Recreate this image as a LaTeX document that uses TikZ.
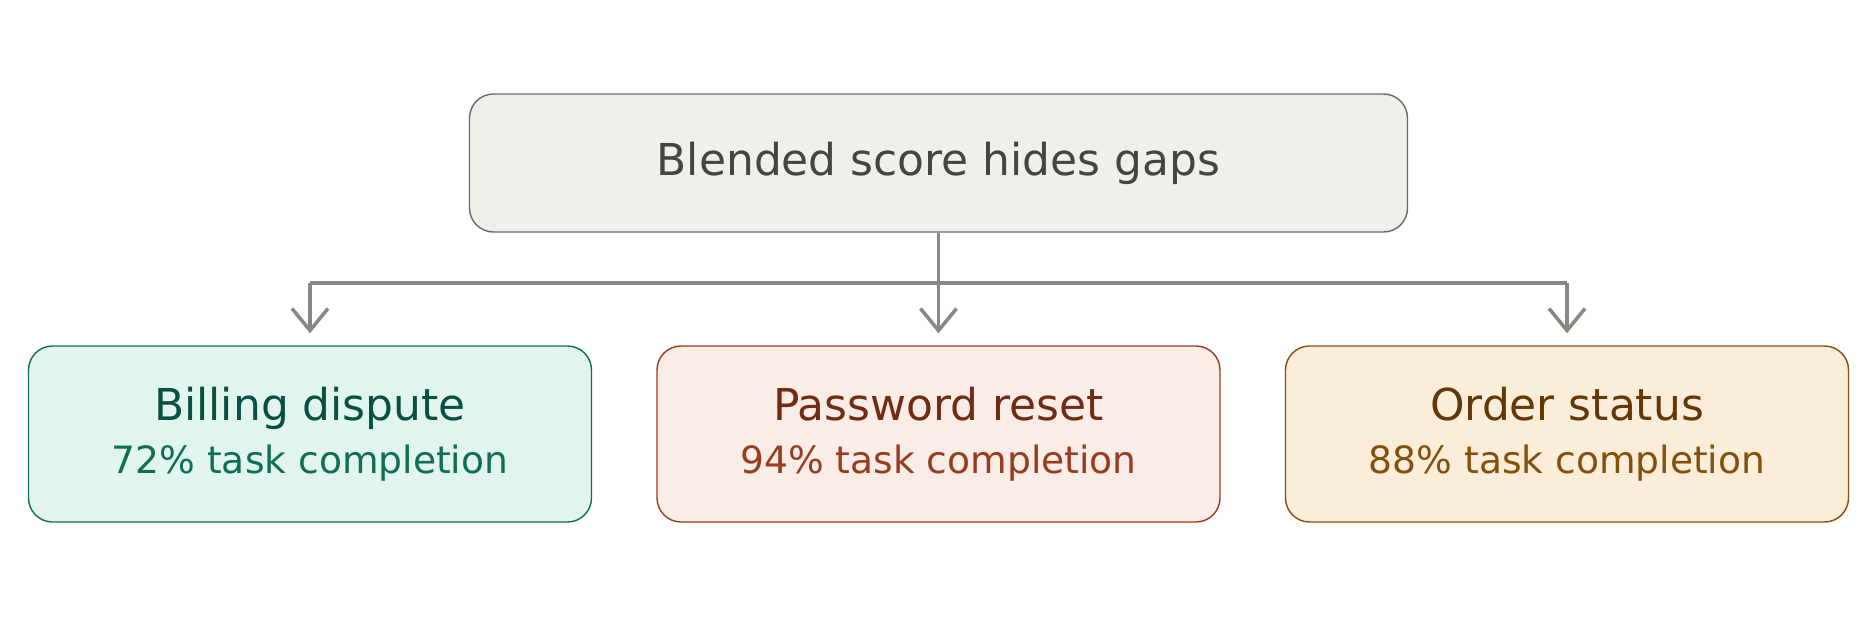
\documentclass[tikz,border=0pt]{standalone}
\usepackage{fontspec}
\setmainfont{DejaVu Sans}
\usetikzlibrary{positioning,arrows.meta}
\definecolor{topfill}{HTML}{F1EFE9}\definecolor{topdraw}{HTML}{6B6A66}\definecolor{toptext}{HTML}{444441}
\definecolor{gfill}{HTML}{E1F5EE}\definecolor{gdraw}{HTML}{0F6E56}\definecolor{gtext}{HTML}{085041}
\definecolor{rfill}{HTML}{FAECE7}\definecolor{rdraw}{HTML}{993C1D}\definecolor{rtext}{HTML}{712B13}
\definecolor{ofill}{HTML}{FAEEDA}\definecolor{odraw}{HTML}{854F0B}\definecolor{otext}{HTML}{633806}
\definecolor{link}{HTML}{888780}
\tikzset{
box/.style={rectangle, rounded corners=0.24cm, line width=0.4pt, minimum width=5.63cm, minimum height=1.76cm, align=center},
link/.style={draw=link, line width=1pt}
}
\begin{document}
\begin{tikzpicture}
\useasboundingbox (0,0) rectangle (18.71,6.43);
\draw (9.385,4.80) node[box, fill=topfill, draw=topdraw, text=toptext, minimum width=9.38cm, minimum height=1.38cm, font=\fontsize{12.5}{15}\selectfont] (score) {Blended score hides gaps}
(3.10,2.09) node[box, fill=gfill, draw=gdraw] (bill) {\fontsize{12.5}{15}\selectfont\color{gtext}Billing dispute\\[3pt]\fontsize{10.7}{13}\selectfont\color{gdraw}72\% task completion}
(9.385,2.09) node[box, fill=rfill, draw=rdraw] (pass) {\fontsize{12.5}{15}\selectfont\color{rtext}Password reset\\[3pt]\fontsize{10.7}{13}\selectfont\color{rdraw}94\% task completion}
(15.67,2.09) node[box, fill=ofill, draw=odraw] (order) {\fontsize{12.5}{15}\selectfont\color{otext}Order status\\[3pt]\fontsize{10.7}{13}\selectfont\color{odraw}88\% task completion};
%bar
\coordinate (bl) at (bill.north |- 0,3.60);
\coordinate (br) at (order.north |- 0,3.60);
\draw [link] (bl) -- (br);
\draw [link] (score.south) -- (pass.north |- bl);
%arrows
\draw [link, -{Straight Barb[length=2.2mm,width=3.6mm]}, shorten >=0.12cm] (bl) -- (bill.north);
\draw [link, -{Straight Barb[length=2.2mm,width=3.6mm]}, shorten >=0.12cm] (pass.north |- bl) -- (pass.north);
\draw [link, -{Straight Barb[length=2.2mm,width=3.6mm]}, shorten >=0.12cm] (br) -- (order.north);
\end{tikzpicture}
\end{document}
